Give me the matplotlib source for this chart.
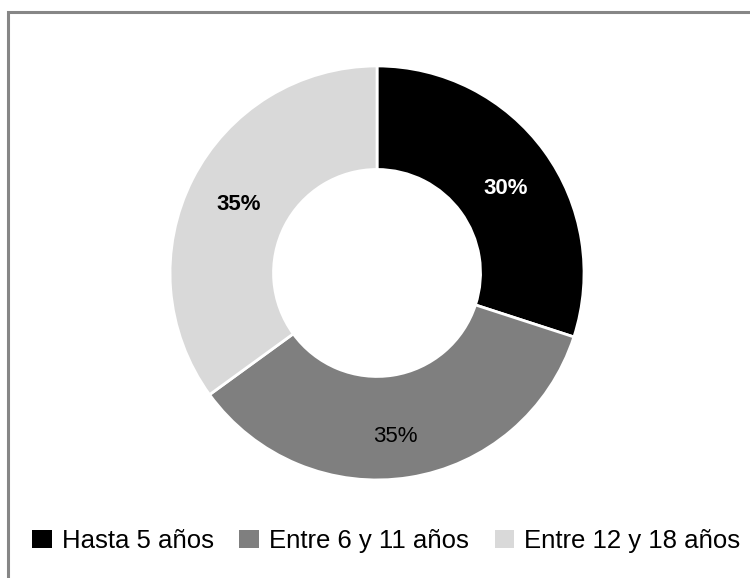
import matplotlib
matplotlib.use("Agg")
import matplotlib.pyplot as plt
from matplotlib.patches import Rectangle, Patch

# age groups and their share
categories = ["Hasta 5 años", "Entre 6 y 11 años", "Entre 12 y 18 años"]
shares = [30, 35, 35]
colors = ["#000000", "#7f7f7f", "#d9d9d9"]
label_colors = ["white", "black", "black"]
label_weights = ["bold", "normal", "bold"]

plt.rcParams["font.family"] = ["Liberation Sans", "DejaVu Sans"]

fig = plt.figure(figsize=(7.5, 5.78), dpi=100)

# gray frame round the chart area
fig.patches.append(Rectangle((7.5 / 750, -0.1), 1.2, 1 - 12.5 / 578 + 0.1,
                             transform=fig.transFigure, fill=False,
                             edgecolor="#868686", linewidth=2.2))

ax = fig.add_axes([0.2267, 0.1696, 0.552, 0.7163])
wedges, texts, autotexts = ax.pie(
    shares, colors=colors, startangle=90, counterclock=False,
    autopct="%1.0f%%", pctdistance=0.76, radius=1,
    wedgeprops=dict(width=0.5, edgecolor="white", linewidth=2),
    textprops=dict(fontsize=16))
label_pos = [(0.62, 0.41), (0.09, -0.79), (-0.67, 0.33)]
for t, c, w, p in zip(autotexts, label_colors, label_weights, label_pos):
    t.set_color(c)
    t.set_fontweight(w)
    t.set_position(p)
ax.set_xlim(-1, 1)
ax.set_ylim(-1, 1)
ax.set_aspect("equal")

handles = [Patch(facecolor=c, edgecolor="none") for c in colors]
fig.legend(handles, categories, loc="center", bbox_to_anchor=(0.515, 0.064),
           ncol=3, frameon=False, fontsize=18.5, handlelength=0.75,
           handleheight=0.75, handletextpad=0.4, columnspacing=1.0)

fig.savefig("out.png", dpi=100)
